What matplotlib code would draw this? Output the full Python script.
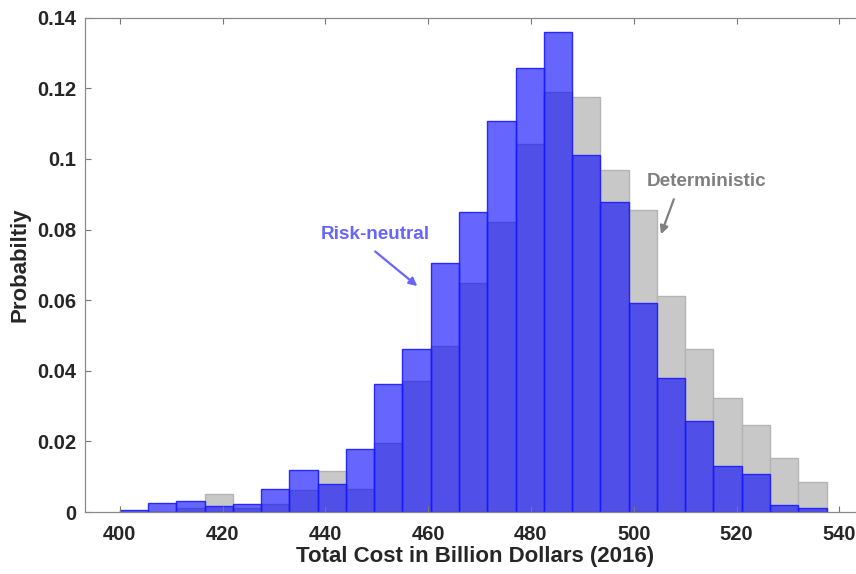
import matplotlib
matplotlib.use('Agg')
import matplotlib.pyplot as plt
import numpy as np

plt.rcParams['font.family'] = ['Liberation Sans', 'DejaVu Sans']
plt.rcParams['font.weight'] = 'bold'

# bins: 400 to 537.5, width 5.5
bin_start = 400.0
bin_width = 5.5
deterministic = [0.0, 0.0, 0.0012, 0.0050, 0.0010, 0.0023, 0.0062, 0.0115, 0.0065,
                 0.0195, 0.0372, 0.0470, 0.0649, 0.0822, 0.1042, 0.1191, 0.1177,
                 0.0968, 0.0856, 0.0612, 0.0461, 0.0323, 0.0246, 0.0154, 0.0085]
risk_neutral = [0.0007, 0.0026, 0.0030, 0.0017, 0.0023, 0.0065, 0.0119, 0.0080, 0.0179,
                0.0363, 0.0463, 0.0705, 0.0849, 0.1107, 0.1258, 0.1360, 0.1010,
                0.0877, 0.0591, 0.0379, 0.0259, 0.0131, 0.0107, 0.0020, 0.0011]
xticks = [400, 420, 440, 460, 480, 500, 520, 540]
yticks = [0, 0.02, 0.04, 0.06, 0.08, 0.1, 0.12, 0.14]
ytick_labels = ['0', '0.02', '0.04', '0.06', '0.08', '0.1', '0.12', '0.14']

edges = bin_start + bin_width * np.arange(len(deterministic))

fig = plt.figure(figsize=(8.56, 5.74), dpi=100)
ax = fig.add_axes([0.099, 0.108, 0.9116, 0.861])

ax.bar(edges, deterministic, width=bin_width, align='edge',
       facecolor='#c8c8c8', edgecolor='#b4b4b4', linewidth=1.0)
ax.bar(edges, risk_neutral, width=bin_width, align='edge',
       facecolor=(0, 0, 1, 0.6), edgecolor=(0.1, 0.1, 1, 0.9), linewidth=1.0)

ax.set_xlim(393.2, 545)
ax.set_ylim(0, 0.14)
ax.set_xticks(xticks)
ax.set_yticks(yticks)
ax.set_yticklabels(ytick_labels)
ax.tick_params(direction='in', length=4, width=0.8, color='#777777',
               labelsize=14.5, labelcolor='#262626', top=True)
ax.tick_params(axis='x', pad=9)
ax.tick_params(axis='y', pad=6)
for s in ax.spines.values():
    s.set_color('#8a8a8a')
    s.set_linewidth(0.9)

ax.set_xlabel('Total Cost in Billion Dollars (2016)', fontsize=16,
              fontweight='bold', color='#262626', labelpad=2)
ax.set_ylabel('Probabiltiy', fontsize=16, fontweight='bold',
              color='#262626', labelpad=5)

ax.annotate('', xy=(457.9, 0.0640), xytext=(449.7, 0.0738),
            arrowprops=dict(arrowstyle='-|>', color='#6666ff', lw=1.6,
                            mutation_scale=12, shrinkA=0, shrinkB=0))
ax.text(449.7, 0.0785, 'Risk-neutral', color='#6666ff', fontsize=13.6,
        fontweight='bold', ha='center', va='center')

ax.annotate('', xy=(505.3, 0.0787), xytext=(507.8, 0.0886),
            arrowprops=dict(arrowstyle='-|>', color='#7f7f7f', lw=1.6,
                            mutation_scale=12, shrinkA=0, shrinkB=0))
ax.text(514.1, 0.0936, 'Deterministic', color='#7f7f7f', fontsize=13.6,
        fontweight='bold', ha='center', va='center')

plt.savefig('out.png', dpi=100)
